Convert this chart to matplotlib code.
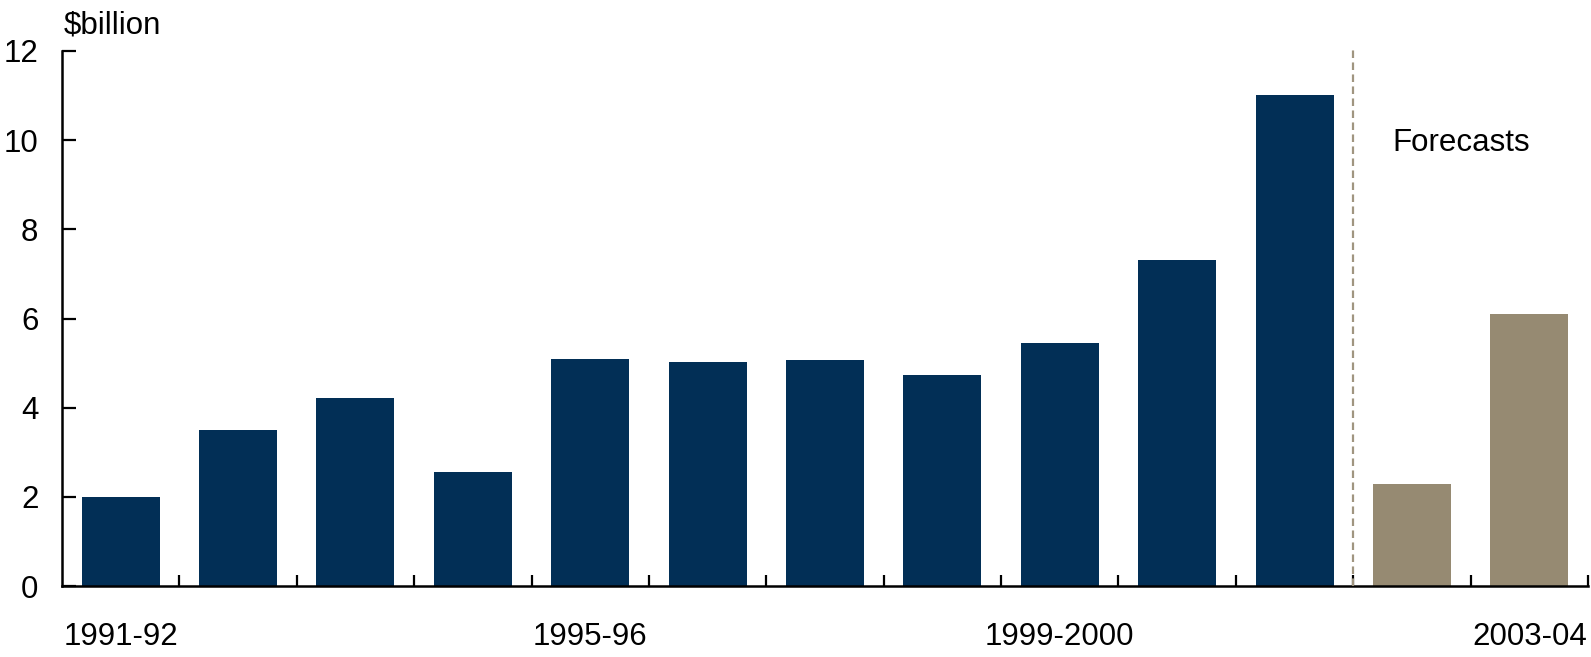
import matplotlib
matplotlib.use("Agg")
import matplotlib.pyplot as plt
import numpy as np

plt.rcParams['font.family'] = ['Liberation Sans', 'DejaVu Sans']

years = ["1991-92", "1992-93", "1993-94", "1994-95", "1995-96", "1996-97", "1997-98",
         "1998-99", "1999-2000", "2000-01", "2001-02", "2002-03", "2003-04"]
values = [2.0, 3.49, 4.21, 2.55, 5.10, 5.03, 5.08, 4.74, 5.44, 7.31, 11.02, 2.28, 6.10]
is_forecast = [False] * 11 + [True] * 2
shown_labels = ["1991-92", "1995-96", "1999-2000", "2003-04"]

NAVY = "#022f56"
TAN = "#968a72"
FS = 22.5

W, H = 1591, 657
fig = plt.figure(figsize=(W / 100, H / 100), dpi=100)
ax = fig.add_axes([62 / W, (H - 586) / H, (1588 - 62) / W, (586 - 51) / H])

x = np.arange(len(years))
colors = [TAN if f else NAVY for f in is_forecast]
ax.bar(x, values, width=0.665, color=colors, zorder=2)

ax.set_xlim(-0.5, len(years) - 0.5)
ax.set_ylim(0, 12)
ax.set_yticks(range(0, 13, 2))

label_pos = [years.index(l) for l in shown_labels]
ax.set_xticks(label_pos)
ax.set_xticklabels(shown_labels)
ax.set_xticks(np.arange(0.5, len(years) - 0.4, 1.0), minor=True)
ax.tick_params(axis='x', which='major', length=0, pad=26, labelsize=FS)
ax.tick_params(axis='x', which='minor', direction='in', length=8, width=1.6)
ax.tick_params(axis='y', direction='in', length=10, width=1.6, labelsize=FS, pad=17)

for s in ['top', 'right']:
    ax.spines[s].set_visible(False)
for s in ['left', 'bottom']:
    ax.spines[s].set_linewidth(1.8)

# forecast divider
first_fc = is_forecast.index(True)
ax.plot([first_fc - 0.5, first_fc - 0.5], [0, 12.1], linestyle=(0, (3.4, 2.0)),
        color="#a09580", linewidth=1.6, clip_on=False, zorder=3)
ax.text(first_fc + 0.42, 9.76, "Forecasts", fontsize=FS, ha='center', va='baseline')

fig.text(64 / W, (H - 33) / H, "$billion", fontsize=FS, ha='left', va='baseline')

fig.savefig("out.png", dpi=100)
